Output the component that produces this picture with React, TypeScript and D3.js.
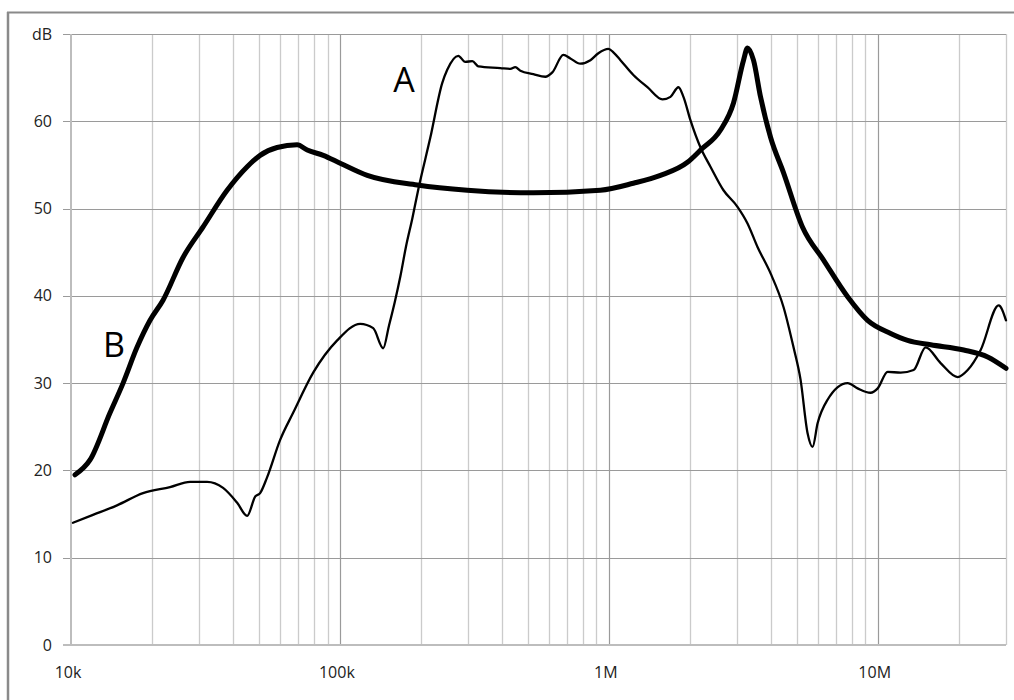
import React from "react";
import * as d3 from "d3";

const freqA = [10170, 12070, 14830, 18530, 23350, 27730, 32080, 36780, 41490, 45200, 48400, 50500, 53600, 59950, 67000, 79560, 97700, 119000, 133000, 144900, 152000, 160000, 168000, 176000, 186000, 196000, 216800, 240300, 250700, 275600, 292600, 310800, 327300, 395200, 430400, 449000, 469000, 524000, 580700, 616600, 677700, 719700, 783600, 854200, 914600, 996600, 1040000, 1105000, 1234000, 1392000, 1583000, 1696000, 1816000, 1895000, 2013000, 2193000, 2388000, 2670000, 3010000, 3280000, 3573000, 3992000, 4466000, 4864000, 5165000, 5483000, 5726000, 5977000, 6510000, 7730000, 8420000, 9408000, 10000000, 10890000, 12170000, 13600000, 15070000, 17140000, 19830000, 21610000, 24150000, 28180000, 30000000];
const dbA = [14.0, 14.9, 16.0, 17.4, 18.1, 18.7, 18.7, 18.0, 16.3, 14.8, 17.0, 17.4, 19.2, 23.5, 26.6, 31.2, 34.9, 36.8, 36.3, 34.0, 36.5, 39.3, 42.3, 45.6, 48.9, 52.3, 58.1, 64.4, 65.9, 67.5, 66.8, 66.9, 66.3, 66.1, 66.0, 66.2, 65.8, 65.4, 65.1, 65.6, 67.6, 67.2, 66.6, 67.0, 67.8, 68.3, 67.9, 67.0, 65.3, 63.9, 62.5, 62.8, 63.9, 62.8, 60.1, 57.0, 54.8, 52.1, 50.2, 48.3, 45.6, 42.6, 38.7, 34.1, 30.4, 24.3, 22.7, 25.4, 28.1, 30.0, 29.4, 28.9, 29.4, 31.3, 31.2, 31.5, 34.1, 32.3, 30.7, 31.5, 33.8, 38.9, 37.2];

const freqB = [10350, 11770, 13970, 15620, 17600, 19680, 21990, 26100, 30990, 38070, 45200, 50500, 58400, 69340, 75600, 86700, 100200, 126400, 194000, 297700, 524000, 930000, 1234000, 1556000, 1961000, 2193000, 2603000, 2909000, 3170000, 3280000, 3452000, 3666000, 3992000, 4466000, 5250000, 6290000, 7730000, 9170000, 11170000, 12920000, 15740000, 20890000, 25650000, 30000000];
const dbB = [19.5, 21.2, 26.6, 30.0, 34.1, 37.2, 39.5, 44.4, 47.9, 52.1, 54.8, 56.1, 57.0, 57.3, 56.7, 56.1, 55.2, 53.8, 52.7, 52.1, 51.8, 52.1, 52.9, 53.8, 55.3, 56.7, 59.0, 62.1, 67.0, 68.4, 67.0, 62.8, 58.2, 54.1, 47.9, 44.1, 39.9, 37.2, 35.7, 34.9, 34.4, 33.8, 33.0, 31.7];

const yTicks = [0, 10, 20, 30, 40, 50, 60, 70];
const yTickLabels = ["0", "10", "20", "30", "40", "50", "60", "dB"];
const xTicks = [1e4, 1e5, 1e6, 1e7];
const xTickLabels = ["10k", "100k", "1M", "10M"];

const W = 1014;
const H = 700;
const L = 71, R = 1006, T = 34, B = 645;

export default function App() {
  const x = d3.scaleLog().domain([1e4, 3e7]).range([L, R]);
  const y = d3.scaleLinear().domain([0, 70]).range([B, T]);

  const minor: number[] = [];
  for (let e = 4; e <= 7; e++) {
    for (let m = 2; m <= 9; m++) {
      const v = m * Math.pow(10, e);
      if (v <= 3e7) minor.push(v);
    }
  }

  const line = d3
    .line<[number, number]>()
    .x((d) => x(d[0]))
    .y((d) => y(d[1]))
    .curve(d3.curveMonotoneX);

  const dataA = freqA.map((f, i) => [f, dbA[i]] as [number, number]);
  const dataB = freqB.map((f, i) => [f, dbB[i]] as [number, number]);

  const font = "'Open Sans', 'DejaVu Sans', sans-serif";

  return (
    <svg
      width={W}
      height={H}
      style={{ position: "absolute", left: 0, top: 0, background: "#fff" }}
    >
      <rect x={0} y={0} width={W} height={H} fill="#fff" />
      <line x1={8} y1={12} x2={8} y2={H} stroke="#8a8a8a" strokeWidth={2.5} />
      <line x1={7} y1={12.5} x2={W} y2={12.5} stroke="#8a8a8a" strokeWidth={2} />

      {minor.map((v) => (
        <line
          key={"m" + v}
          x1={Math.round(x(v)) + 0.5}
          x2={Math.round(x(v)) + 0.5}
          y1={T}
          y2={B}
          stroke="#cbcbcb"
          strokeWidth={1.3}
        />
      ))}
      {xTicks.slice(1).map((v) => (
        <line
          key={"M" + v}
          x1={Math.round(x(v)) + 0.5}
          x2={Math.round(x(v)) + 0.5}
          y1={T}
          y2={B}
          stroke="#9a9a9a"
          strokeWidth={1.2}
        />
      ))}
      {yTicks.slice(1).map((v) => (
        <line
          key={"h" + v}
          x1={L - 8}
          x2={R}
          y1={Math.round(y(v)) + 0.5}
          y2={Math.round(y(v)) + 0.5}
          stroke="#9a9a9a"
          strokeWidth={1.2}
        />
      ))}
      <line x1={L} x2={L} y1={T} y2={B} stroke="#bdbdbd" strokeWidth={2} />
      <line x1={L - 8} x2={R} y1={B} y2={B} stroke="#bdbdbd" strokeWidth={2} />

      {yTicks.map((v, i) => (
        <text
          key={"yl" + v}
          x={52}
          y={y(v)}
          dy="0.35em"
          textAnchor="end"
          fontFamily={font}
          fontSize={16}
          fill="#222"
        >
          {yTickLabels[i]}
        </text>
      ))}
      {xTicks.map((v, i) => (
        <text
          key={"xl" + v}
          x={x(v) - 3}
          y={678}
          textAnchor="middle"
          fontFamily={font}
          fontSize={16}
          fill="#222"
        >
          {xTickLabels[i]}
        </text>
      ))}

      <path d={line(dataA) || ""} fill="none" stroke="#000" strokeWidth={2.3} strokeLinejoin="round" strokeLinecap="round" />
      <path d={line(dataB) || ""} fill="none" stroke="#000" strokeWidth={5} strokeLinejoin="round" strokeLinecap="round" />

      <text x={404} y={92} textAnchor="middle" fontFamily={font} fontSize={34} fill="#000">
        A
      </text>
      <text x={114} y={357} textAnchor="middle" fontFamily={font} fontSize={34} fill="#000">
        B
      </text>
    </svg>
  );
}
